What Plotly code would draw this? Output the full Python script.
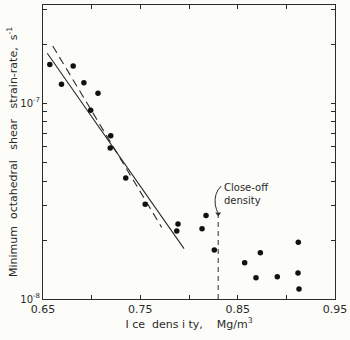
import plotly.graph_objects as go

# Observations: ice density (Mg/m^3) vs minimum octahedral shear strain-rate (s^-1)
density = [0.657, 0.669, 0.681, 0.692, 0.7065, 0.699, 0.7196, 0.7191, 0.735, 0.755,
           0.7887, 0.7874, 0.8175, 0.8134, 0.826, 0.8572, 0.8733, 0.8688, 0.8907,
           0.9123, 0.912, 0.913]
strain_rate = [1.57e-7, 1.245e-7, 1.545e-7, 1.27e-7, 1.12e-7, 9.18e-8, 6.81e-8, 5.89e-8,
               4.14e-8, 3.04e-8, 2.41e-8, 2.22e-8, 2.67e-8, 2.28e-8, 1.78e-8, 1.53e-8,
               1.72e-8, 1.285e-8, 1.30e-8, 1.95e-8, 1.357e-8, 1.125e-8]

# Fitted lines
solid_x = [0.6544, 0.7949]
solid_y = [1.793e-7, 1.806e-8]
dashed_x = [0.660, 0.7719]
dashed_y = [1.954e-7, 2.32e-8]

# Close-off density marker
close_off_x = [0.83, 0.83]
close_off_y = [1.0e-8, 2.72e-8]

x_tickvals = [0.65, 0.70, 0.75, 0.80, 0.85, 0.90, 0.95]
x_ticktext = ["0.65", "", "0.75", "", "0.85", "", "0.95"]
y_tickvals = [m * 10.0 ** e for e in (-8, -7) for m in range(1, 10)]
y_ticktext = ["10<sup>-8</sup>" if v == 1e-8 else ("10<sup>-7</sup>" if abs(v - 1e-7) < 1e-12 else "")
              for v in y_tickvals]

ink = "#2a2a2a"
font = "DejaVu Sans"

fig = go.Figure()
fig.add_trace(go.Scatter(x=solid_x, y=solid_y, mode="lines",
                         line=dict(color=ink, width=1.1), hoverinfo="skip"))
fig.add_trace(go.Scatter(x=dashed_x, y=dashed_y, mode="lines",
                         line=dict(color=ink, width=1.1, dash="8px,5px"), hoverinfo="skip"))
fig.add_trace(go.Scatter(x=close_off_x, y=close_off_y, mode="lines",
                         line=dict(color=ink, width=1, dash="5px,4px"), hoverinfo="skip"))
fig.add_trace(go.Scatter(x=[close_off_x[1]], y=[close_off_y[1]], mode="markers",
                         marker=dict(symbol="triangle-down", size=5, color=ink), hoverinfo="skip"))
fig.add_trace(go.Scatter(x=density, y=strain_rate, mode="markers",
                         marker=dict(color="#111111", size=5.5), hoverinfo="skip"))

fig.add_annotation(x=0.834, y=-7.462, xref="x", yref="y", text="Close-off<br>density",
                   showarrow=False, xanchor="left", yanchor="middle", align="left",
                   font=dict(family=font, size=10, color=ink))
# curved leader from label to arrow
fig.add_shape(type="path", xref="paper", yref="paper",
              path="M 0.61,0.384 Q 0.585,0.36 0.59,0.32 Q 0.595,0.30 0.598,0.295",
              line=dict(color=ink, width=1))

fig.update_layout(
    width=350, height=340,
    margin=dict(l=43, r=15, t=5, b=41),
    paper_bgcolor="#fcfcf9", plot_bgcolor="#fcfcf9",
    showlegend=False,
    font=dict(family=font, size=11, color=ink),
)
fig.update_xaxes(range=[0.65, 0.95], tickvals=x_tickvals, ticktext=x_ticktext,
                 ticks="inside", ticklen=4, tickcolor=ink, mirror="ticks",
                 showline=True, linecolor=ink, linewidth=1, showgrid=False, zeroline=False,
                 tickfont=dict(size=11), automargin=False,
                 title=dict(text="I ce  dens i ty,    Mg/m<sup>3</sup>", standoff=2,
                            font=dict(size=11)))
fig.update_yaxes(type="log", range=[-8, -6.5], tickvals=y_tickvals, ticktext=y_ticktext,
                 ticks="inside", ticklen=4, tickcolor=ink, mirror="ticks",
                 showline=True, linecolor=ink, linewidth=1, showgrid=False, zeroline=False,
                 tickfont=dict(size=10), automargin=False,
                 title=dict(text="Minimum  octahedral   shear   strain-rate,  s<sup>-1</sup>",
                            standoff=0, font=dict(size=11)))

fig.write_html("out.html", config={"displayModeBar": False},
               post_script="document.body.style.margin='0';document.body.style.overflow='hidden';")
